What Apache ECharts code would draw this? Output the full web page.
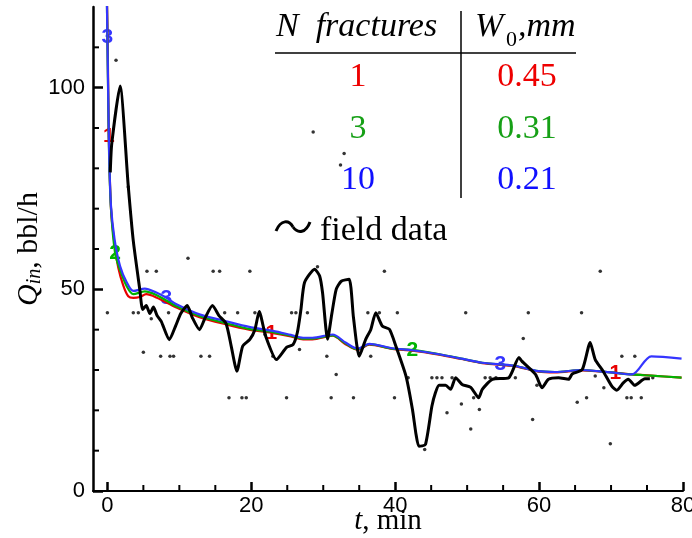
<!DOCTYPE html>
<html>
<head>
<meta charset="utf-8">
<script src="https://cdn.jsdelivr.net/npm/echarts@6/dist/echarts.min.js"></script>
<style>
  html, body { margin: 0; padding: 0; background: #fff; }
  #chart { width: 692px; height: 538px; }
</style>
</head>
<body>
<div id="chart"></div>
<script>
// Inflow rate Q_in versus time: model curves for 1, 3 and 10 fractures plus field data.

// Model: 1 fracture, W0 = 0.45 mm
const redT = [-0.1, 0.05, 0.2, 0.5, 1.0, 1.5, 2.2, 2.9, 3.6, 4.5, 5.4, 6.8, 9.6, 12.8, 16.5, 19.7, 22.8, 25.5, 27.2, 28.5, 31.3, 33.1, 34.8, 36.4, 39.6, 42.4, 46.1, 49.0, 52.1, 56.7, 59.9, 62.2, 66.0, 70.6, 72.9, 75.6, 79.8];
const redQ = [126, 110, 88, 70, 61, 55.5, 51, 48.3, 47.9, 48.1, 48.8, 48, 45.5, 43.1, 41.3, 40, 39.2, 38.3, 37.6, 37.6, 38.5, 36.4, 35, 36.3, 35.2, 34.8, 33.8, 32.8, 31.7, 30.9, 29.6, 29.4, 29.9, 29.3, 28.9, 28.6, 28.1];
const redTags = [0.2, 22.8, 70.6];

// Model: 3 fractures, W0 = 0.31 mm
const greenT = [-0.1, 0.0, 0.1, 0.24, 0.5, 1.07, 1.76, 2.7, 3.6, 5.2, 6.8, 9.6, 12.8, 16.5, 19.7, 23.0, 25.5, 27.2, 28.5, 31.3, 33.1, 34.8, 36.4, 39.6, 42.4, 46.1, 49.0, 52.1, 56.7, 59.9, 62.2, 66.0, 70.0, 72.9, 75.6, 79.8];
const greenQ = [126, 112, 99, 83, 70, 59, 54.8, 50.7, 48.8, 49.5, 48.6, 45.8, 43.4, 41.6, 40.2, 39.4, 38.5, 37.8, 37.8, 38.6, 36.6, 35.1, 36.4, 35.3, 35.0, 33.9, 32.9, 31.8, 31.0, 29.7, 29.5, 30, 29.4, 28.9, 28.6, 28.1];
const greenTags = [1.07, 42.4];

// Model: 10 fractures, W0 = 0.21 mm
const blueT = [-0.1, 0.0, 0.1, 0.24, 0.5, 1.0, 1.76, 2.7, 3.6, 5.2, 6.8, 8.2, 9.6, 12.8, 16.5, 19.7, 23.0, 25.5, 27.2, 28.5, 31.3, 33.1, 34.8, 36.4, 39.6, 42.4, 46.1, 49.0, 52.1, 54.6, 56.7, 59.9, 62.2, 66.0, 70.0, 72.9, 75.6, 79.8];
const blueQ = [126, 112.5, 100, 84, 70.7, 62.4, 55.8, 51.7, 49.6, 50.2, 49.2, 47.9, 46.3, 43.8, 42.1, 40.7, 39.7, 38.7, 38, 38, 38.8, 36.8, 35.3, 36.5, 35.4, 34.9, 33.9, 32.9, 31.8, 31.4, 31, 29.7, 29.5, 30, 29.4, 28.9, 33.4, 32.8];
const blueTags = [0.0, 8.2, 54.6];

// Field data: averaged trace
const fieldT = [0.4, 0.6, 1.76, 2.9, 3.6, 4.5, 4.9, 5.4, 5.9, 6.4, 6.9, 7.5, 8.6, 9.5, 10.2, 11.1, 11.8, 12.8, 13.6, 14.6, 15.5, 16.5, 17.2, 18, 18.8, 19.8, 20.5, 21.1, 22, 23.5, 24.9, 25.8, 26.4, 26.9, 27.4, 28.8, 29.5, 29.9, 30.6, 31.2, 31.8, 32.5, 33.6, 34.2, 35, 35.9, 36.6, 37.3, 38.2, 39.2, 40.1, 41.5, 42.4, 42.9, 43.3, 44.2, 45.1, 45.6, 46.1, 47, 47.7, 48.4, 49.3, 50.5, 51.6, 52.1, 53.5, 55.8, 57.2, 57.6, 59.5, 60.4, 61.3, 62.7, 64.1, 64.6, 66, 67.1, 67.8, 68.9, 70.1, 70.8, 71.7, 72.4, 73.3, 74.7, 75.4];
const fieldQ = [79, 86, 100.4, 75.6, 62, 50, 45, 46, 44, 45.6, 43.5, 42, 37.5, 41, 44, 46, 43, 40, 43, 46, 43.5, 41.5, 36, 29.7, 35.9, 37.6, 40, 44.5, 38.4, 32.6, 35.6, 36.3, 39.3, 45, 51.7, 55, 53.3, 49.2, 37.6, 44, 50, 52, 52.5, 43, 33.4, 37.6, 40, 44.2, 40.9, 40.1, 35.9, 28.5, 20.2, 14, 11.1, 11.5, 21, 24.4, 26.2, 26.2, 25.2, 28.1, 26.4, 25.7, 23.1, 25.2, 27.7, 28.1, 33.1, 32.2, 28.9, 25.6, 27.7, 28.1, 27.7, 29, 30.1, 36.8, 32.6, 29.7, 26, 25, 26.8, 27.7, 26.2, 27.8, 27.8];

// Field data: raw samples
const dotT = [1.2, 2.9, 28.6, 32.9, 32.4, 11.2,
  5.5, 6.8, 14.7, 15.6, 19.8, 29.2, 38.5, 68.5,
  0, 3.6, 4.3, 8.5, 16.3, 18.1, 20.5, 25.6, 26.2, 27.8, 36.2, 37.8, 40.3, 49.8, 58.5, 65.9,
  6.1, 21.9, 26.7, 57.8,
  5, 7.4, 8.7, 9.2, 13, 14.2, 23, 30.5, 36.6, 71.5, 73.3,
  31.8,
  41.8, 45.1, 45.8, 46.5, 47.9, 52.5, 53.2, 54, 56.7, 67.8, 75.8, 59.7, 69,
  16.9, 18.7, 19.3, 24.9, 31.1, 34.2, 39.9, 65.3, 66.6, 72.2, 72.8, 74.2, 50.9,
  47.2, 49.2, 51.7, 50.5, 59.1, 69.9, 44.1];
const dotQ = [106.8, 75.4, 89, 83.7, 80.8, 57.7,
  54.5, 54.5, 54.5, 54.5, 54.5, 55.6, 54.5, 54.5,
  44.2, 44.2, 44.2, 44.2, 44.2, 44.2, 44.2, 44.2, 44.2, 44.2, 44.2, 44.2, 44.2, 44.2, 44.2, 44.2,
  42.7, 38.8, 35.1, 37.8,
  34.4, 33.4, 33.4, 33.4, 33.4, 33.4, 33.4, 33.4, 33.4, 33.4, 33.4,
  28.9,
  28.1, 28.1, 28.1, 28.1, 28.1, 28.1, 28.1, 28.1, 28.1, 28.5, 28.1, 26.2, 25.6,
  23.1, 23.1, 23.1, 23.1, 23.1, 23.1, 23.1, 22, 23.1, 23.1, 23.1, 23.1, 23.1,
  19.4, 21.6, 20.2, 15.4, 17.7, 11.7, 10.3];

// Axis ticks
const xMajor = [0, 20, 40, 60, 80];
const xMinor = [5, 10, 15, 25, 30, 35, 45, 50, 55, 65, 70, 75];
const yMajor = [0, 50, 100];
const yMinor = [10, 20, 30, 40, 60, 70, 80, 90, 110];
const X_MIN = -2, X_MAX = 80, Y_MIN = 0, Y_MAX = 120;

// Legend table rows
const rowN = ['1', '3', '10'];
const rowW = ['0.45', '0.31', '0.21'];

const RED = '#e80000', GREEN = '#00b400', BLUE = '#3535ff';
const TXT_RED = '#ee0000', TXT_GREEN = '#16a016', TXT_BLUE = '#1010ff';
const SERIF = '"Liberation Serif", "Times New Roman", serif';
const SANS = '"Liberation Sans", Arial, sans-serif';

const zip = (xs, ys) => xs.map((x, i) => [x, ys[i]]);
const tagPoints = (xs, ys, tags) => tags.map(t => { const i = xs.indexOf(t); return [xs[i], ys[i]]; });

function modelLine(name, xs, ys, color) {
  return {
    name, type: 'line', data: zip(xs, ys), showSymbol: false, symbol: 'none',
    smooth: 0.3, lineStyle: { color, width: 2.2 }, clip: true, silent: true
  };
}
function tagSeries(name, xs, ys, tags, color) {
  return {
    name, type: 'scatter', data: tagPoints(xs, ys, tags), symbolSize: 1,
    itemStyle: { color: 'rgba(0,0,0,0)' }, silent: true,
    label: {
      show: true, position: 'inside', formatter: name,
      color, fontFamily: SANS, fontWeight: 'bold', fontSize: 21,
      textBorderWidth: 0, textBorderColor: 'transparent', opacity: 1
    }
  };
}

// Short minor tick marks placed through the axes' own scales.
function minorTicks(name, points, dx, dy) {
  return {
    name, type: 'custom', coordinateSystem: 'cartesian2d', clip: false, silent: true, z: 5,
    data: points,
    renderItem: (params, api) => {
      const p = api.coord([api.value(0), api.value(1)]);
      return {
        type: 'line',
        shape: { x1: p[0], y1: p[1], x2: p[0] + dx, y2: p[1] + dy },
        style: { stroke: '#000', lineWidth: 2 }
      };
    }
  };
}

const rowY = [77, 129, 180];
const rowColors = [TXT_RED, TXT_GREEN, TXT_BLUE];
const tableTexts = [];
rowN.forEach((s, i) => {
  tableTexts.push({ type: 'text', style: { text: s, x: 358, y: rowY[i], align: 'center', verticalAlign: 'middle', font: '34px ' + SERIF, fill: rowColors[i] } });
  tableTexts.push({ type: 'text', style: { text: rowW[i], x: 527, y: rowY[i], align: 'center', verticalAlign: 'middle', font: '34px ' + SERIF, fill: rowColors[i] } });
});

const option = {
  animation: false,
  backgroundColor: '#fff',
  grid: { left: 93, right: 9, top: 7, bottom: 47, containLabel: false, outerBoundsMode: 'none' },
  xAxis: {
    type: 'value', min: X_MIN, max: X_MAX, position: 'bottom',
    axisLine: { show: true, onZero: false, lineStyle: { color: '#000', width: 2 } },
    axisTick: { show: true, inside: true, length: 9, customValues: xMajor, lineStyle: { color: '#000', width: 2.5 } },
    axisLabel: { customValues: xMajor, color: '#000', fontFamily: SANS, fontSize: 22, margin: 4, hideOverlap: false },
    splitLine: { show: false },
    name: '{t|t}{n|, min}', nameLocation: 'middle', nameGap: 16, nameMoveOverlap: false,
    nameTextStyle: {
      rich: {
        t: { fontFamily: SERIF, fontStyle: 'italic', fontSize: 29, color: '#000' },
        n: { fontFamily: SERIF, fontSize: 29, color: '#000' }
      }
    }
  },
  yAxis: {
    type: 'value', min: Y_MIN, max: Y_MAX, position: 'left',
    axisLine: { show: true, onZero: false, lineStyle: { color: '#000', width: 2.5 } },
    axisTick: { show: true, inside: true, length: 10, customValues: yMajor, lineStyle: { color: '#000', width: 2.5 } },
    axisLabel: { customValues: yMajor, color: '#000', fontFamily: SANS, fontSize: 22, margin: 8 },
    splitLine: { show: false },
    name: '{q|Q}{s|in}{n|, bbl/h}', nameLocation: 'middle', nameRotate: 90, nameGap: 48, nameMoveOverlap: false,
    nameTextStyle: {
      rich: {
        q: { fontFamily: SERIF, fontStyle: 'italic', fontSize: 30, color: '#000' },
        s: { fontFamily: SERIF, fontStyle: 'italic', fontSize: 20, color: '#000', padding: [12, 0, 0, 0] },
        n: { fontFamily: SERIF, fontSize: 30, color: '#000' }
      }
    }
  },
  series: [
    minorTicks('x minor ticks', xMinor.map(v => [v, Y_MIN]), 0, -6),
    minorTicks('y minor ticks', yMinor.map(v => [X_MIN, v]), 6, 0),
    modelLine('1', redT, redQ, RED),
    tagSeries('1', redT, redQ, redTags, RED),
    modelLine('2', greenT, greenQ, GREEN),
    tagSeries('2', greenT, greenQ, greenTags, GREEN),
    modelLine('3', blueT, blueQ, BLUE),
    tagSeries('3', blueT, blueQ, blueTags, BLUE),
    {
      name: 'field data', type: 'line', data: zip(fieldT, fieldQ), showSymbol: false, symbol: 'none',
      smooth: 0.2, lineStyle: { color: '#000', width: 3 }, silent: true
    },
    {
      name: 'field samples', type: 'scatter', data: zip(dotT, dotQ), symbolSize: 3.5,
      itemStyle: { color: '#000' }, silent: true
    }
  ],
  graphic: [
    { type: 'text', style: { text: 'N  fractures', x: 276, y: 27, align: 'left', verticalAlign: 'middle', font: 'italic 34px ' + SERIF, fill: '#000' } },
    { type: 'text', style: { text: 'W', x: 475, y: 27, align: 'left', verticalAlign: 'middle', font: 'italic 34px ' + SERIF, fill: '#000' } },
    { type: 'text', style: { text: '0', x: 506, y: 40, align: 'left', verticalAlign: 'middle', font: '22px ' + SERIF, fill: '#000' } },
    { type: 'text', style: { text: ',mm', x: 518, y: 27, align: 'left', verticalAlign: 'middle', font: 'italic 34px ' + SERIF, fill: '#000' } },
    { type: 'line', shape: { x1: 275, y1: 53, x2: 576, y2: 53 }, style: { stroke: '#000', lineWidth: 1.5 } },
    { type: 'line', shape: { x1: 461, y1: 11, x2: 461, y2: 198 }, style: { stroke: '#000', lineWidth: 1.5 } },
    ...tableTexts,
    { type: 'bezierCurve', shape: { x1: 276, y1: 231, cpx1: 281, cpy1: 219, cpx2: 289, cpy2: 220, x2: 293, y2: 227 }, style: { stroke: '#000', lineWidth: 3, fill: null } },
    { type: 'bezierCurve', shape: { x1: 293, y1: 227, cpx1: 298, cpy1: 234, cpx2: 306, cpy2: 233, x2: 310, y2: 222 }, style: { stroke: '#000', lineWidth: 3, fill: null } },
    { type: 'text', style: { text: 'field data', x: 320, y: 231, align: 'left', verticalAlign: 'middle', font: '34px ' + SERIF, fill: '#000' } }
  ]
};

const chart = echarts.init(document.getElementById('chart'), null, { renderer: 'canvas' });
chart.setOption(option);
</script>
</body>
</html>
